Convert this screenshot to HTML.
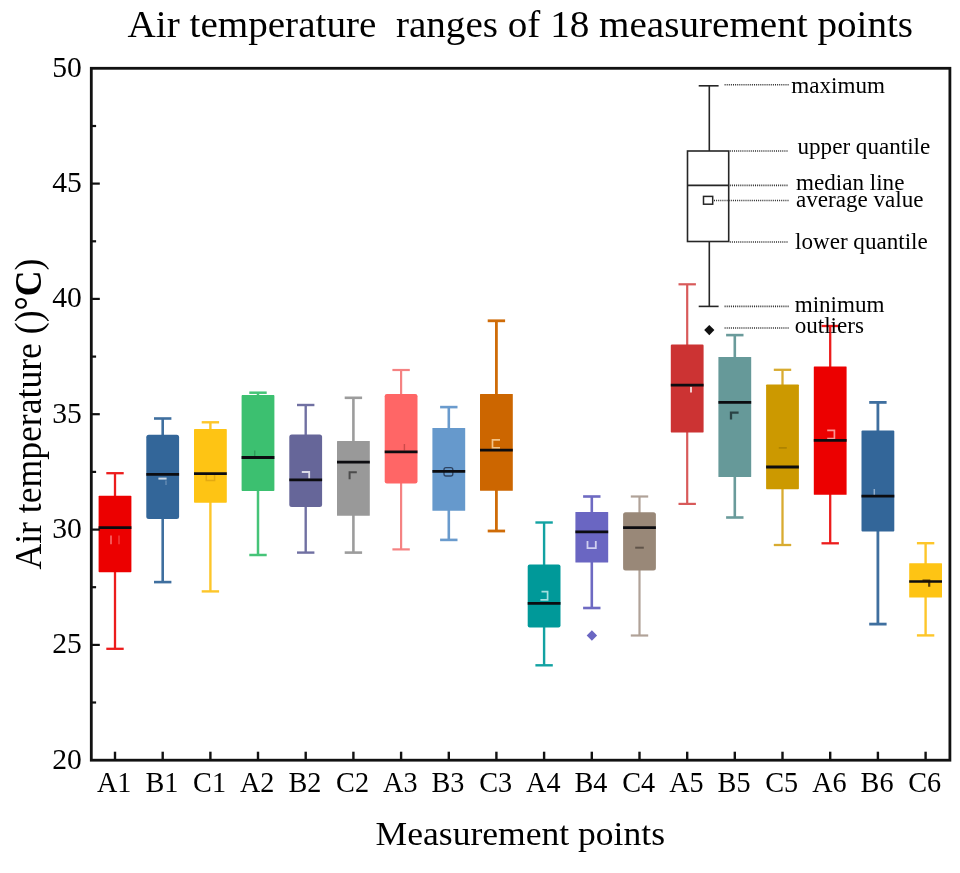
<!DOCTYPE html>
<html lang="en"><head><meta charset="utf-8"><title>Air temperature ranges of 18 measurement points</title>
<style>html,body{margin:0;padding:0;background:#fff}svg{display:block;filter:blur(0.55px)}text{font-family:"Liberation Serif",serif;fill:#000}</style></head><body>
<svg width="960" height="873" viewBox="0 0 960 873">
<rect width="960" height="873" fill="#fff"/>
<text x="127.6" y="36.6" font-size="37.6" textLength="785.5" lengthAdjust="spacingAndGlyphs" xml:space="preserve" style="white-space:pre">Air temperature  ranges of 18 measurement points</text>
<g stroke="#ec1c1c" stroke-width="2.3">
<line x1="115.0" y1="473.2" x2="115.0" y2="648.8"/>
<line x1="106.3" y1="473.2" x2="123.7" y2="473.2"/>
<line x1="106.3" y1="648.8" x2="123.7" y2="648.8"/>
</g>
<rect x="98.6" y="495.8" width="32.8" height="76.4" rx="0.8" fill="#ec0000"/>
<g stroke="#3f6f9f" stroke-width="2.6">
<line x1="162.7" y1="418.5" x2="162.7" y2="582.1"/>
<line x1="154.0" y1="418.5" x2="171.4" y2="418.5"/>
<line x1="154.0" y1="582.1" x2="171.4" y2="582.1"/>
</g>
<rect x="146.3" y="434.8" width="32.8" height="84.2" rx="2.5" fill="#336699"/>
<g stroke="#fdc62a" stroke-width="2.4">
<line x1="210.4" y1="422.3" x2="210.4" y2="591.4"/>
<line x1="201.7" y1="422.3" x2="219.1" y2="422.3"/>
<line x1="201.7" y1="591.4" x2="219.1" y2="591.4"/>
</g>
<rect x="194.0" y="428.9" width="32.8" height="73.8" rx="0.8" fill="#fec414"/>
<g stroke="#46c478" stroke-width="2.5">
<line x1="258.0" y1="392.7" x2="258.0" y2="555.0"/>
<line x1="249.3" y1="392.7" x2="266.7" y2="392.7"/>
<line x1="249.3" y1="555.0" x2="266.7" y2="555.0"/>
</g>
<rect x="241.6" y="395.1" width="32.8" height="95.9" rx="0.8" fill="#3cc070"/>
<g stroke="#7070a2" stroke-width="2.4">
<line x1="305.7" y1="405.0" x2="305.7" y2="552.6"/>
<line x1="297.0" y1="405.0" x2="314.4" y2="405.0"/>
<line x1="297.0" y1="552.6" x2="314.4" y2="552.6"/>
</g>
<rect x="289.3" y="434.5" width="32.8" height="72.5" rx="2.5" fill="#666699"/>
<g stroke="#9c9c9c" stroke-width="2.6">
<line x1="353.4" y1="397.8" x2="353.4" y2="552.6"/>
<line x1="344.7" y1="397.8" x2="362.1" y2="397.8"/>
<line x1="344.7" y1="552.6" x2="362.1" y2="552.6"/>
</g>
<rect x="337.0" y="441.1" width="32.8" height="74.7" rx="0.5" fill="#999999"/>
<g stroke="#f58282" stroke-width="2.2">
<line x1="401.1" y1="370.0" x2="401.1" y2="549.4"/>
<line x1="392.4" y1="370.0" x2="409.8" y2="370.0"/>
<line x1="392.4" y1="549.4" x2="409.8" y2="549.4"/>
</g>
<rect x="384.7" y="394.1" width="32.8" height="89.3" rx="2.2" fill="#ff6666"/>
<g stroke="#6a9bcd" stroke-width="2.6">
<line x1="448.8" y1="407.1" x2="448.8" y2="539.9"/>
<line x1="440.1" y1="407.1" x2="457.5" y2="407.1"/>
<line x1="440.1" y1="539.9" x2="457.5" y2="539.9"/>
</g>
<rect x="432.4" y="428.1" width="32.8" height="82.6" rx="0.5" fill="#6699cc"/>
<g stroke="#cf6c08" stroke-width="2.8">
<line x1="496.4" y1="320.8" x2="496.4" y2="531.0"/>
<line x1="487.7" y1="320.8" x2="505.1" y2="320.8"/>
<line x1="487.7" y1="531.0" x2="505.1" y2="531.0"/>
</g>
<rect x="480.0" y="394.1" width="32.8" height="96.6" rx="0.5" fill="#cc6600"/>
<g stroke="#12a2a2" stroke-width="2.4">
<line x1="544.1" y1="522.5" x2="544.1" y2="665.3"/>
<line x1="535.4" y1="522.5" x2="552.8" y2="522.5"/>
<line x1="535.4" y1="665.3" x2="552.8" y2="665.3"/>
</g>
<rect x="527.7" y="564.5" width="32.8" height="63.0" rx="2.0" fill="#009999"/>
<g stroke="#6e6ac2" stroke-width="2.6">
<line x1="591.8" y1="496.5" x2="591.8" y2="608.0"/>
<line x1="583.1" y1="496.5" x2="600.5" y2="496.5"/>
<line x1="583.1" y1="608.0" x2="600.5" y2="608.0"/>
</g>
<rect x="575.4" y="512.0" width="32.8" height="50.5" rx="0.5" fill="#6a66c2"/>
<g stroke="#b0a298" stroke-width="2.2">
<line x1="639.5" y1="496.5" x2="639.5" y2="635.5"/>
<line x1="630.8" y1="496.5" x2="648.2" y2="496.5"/>
<line x1="630.8" y1="635.5" x2="648.2" y2="635.5"/>
</g>
<rect x="623.1" y="512.3" width="32.8" height="58.3" rx="2.5" fill="#998878"/>
<g stroke="#d85a5a" stroke-width="2.2">
<line x1="687.2" y1="284.3" x2="687.2" y2="503.9"/>
<line x1="678.5" y1="284.3" x2="695.9" y2="284.3"/>
<line x1="678.5" y1="503.9" x2="695.9" y2="503.9"/>
</g>
<rect x="670.8" y="344.5" width="32.8" height="88.1" rx="1.2" fill="#cc3333"/>
<g stroke="#6a9b9b" stroke-width="2.6">
<line x1="734.8" y1="335.1" x2="734.8" y2="517.5"/>
<line x1="726.1" y1="335.1" x2="743.5" y2="335.1"/>
<line x1="726.1" y1="517.5" x2="743.5" y2="517.5"/>
</g>
<rect x="718.4" y="357.1" width="32.8" height="119.9" rx="0.5" fill="#669999"/>
<g stroke="#d8ab30" stroke-width="2.3">
<line x1="782.5" y1="369.8" x2="782.5" y2="545.0"/>
<line x1="773.8" y1="369.8" x2="791.2" y2="369.8"/>
<line x1="773.8" y1="545.0" x2="791.2" y2="545.0"/>
</g>
<rect x="766.1" y="384.5" width="32.8" height="104.8" rx="0.8" fill="#cc9900"/>
<g stroke="#ec1c1c" stroke-width="2.3">
<line x1="830.2" y1="326.0" x2="830.2" y2="543.3"/>
<line x1="821.5" y1="326.0" x2="838.9" y2="326.0"/>
<line x1="821.5" y1="543.3" x2="838.9" y2="543.3"/>
</g>
<rect x="813.8" y="366.6" width="32.8" height="128.2" rx="0.5" fill="#ec0000"/>
<g stroke="#3f6f9f" stroke-width="2.8">
<line x1="877.9" y1="402.4" x2="877.9" y2="624.1"/>
<line x1="869.2" y1="402.4" x2="886.6" y2="402.4"/>
<line x1="869.2" y1="624.1" x2="886.6" y2="624.1"/>
</g>
<rect x="861.5" y="430.6" width="32.8" height="101.0" rx="1.0" fill="#336699"/>
<g stroke="#fdc62a" stroke-width="2.4">
<line x1="925.6" y1="543.2" x2="925.6" y2="635.4"/>
<line x1="916.9" y1="543.2" x2="934.3" y2="543.2"/>
<line x1="916.9" y1="635.4" x2="934.3" y2="635.4"/>
</g>
<rect x="909.2" y="563.3" width="32.8" height="34.3" rx="0.5" fill="#fec414"/>
<path d="M111 535.5V544.3" fill="none" stroke="#ffb0b0" stroke-width="1.6" opacity="0.60"/>
<path d="M119 535.5V544.3" fill="none" stroke="#ffb0b0" stroke-width="1.4" opacity="0.36"/>
<path d="M158.4 478.6H166.6" fill="none" stroke="#ffffff" stroke-width="2.0" opacity="0.76"/>
<path d="M166 480.5V485" fill="none" stroke="#c8d8e8" stroke-width="1.2" opacity="0.40"/>
<path d="M206.3 475V480.6H214.6V475" fill="none" stroke="#d9a010" stroke-width="1.5" opacity="0.72"/>
<path d="M254.7 450.4V456.5" fill="none" stroke="#2a8a50" stroke-width="1.4" opacity="0.72"/>
<path d="M301.8 472H309.2V478.6" fill="none" stroke="#ffffff" stroke-width="1.8" opacity="0.76"/>
<path d="M349.6 479.2V472.2H356.8" fill="none" stroke="#333333" stroke-width="2.0" opacity="0.76"/>
<path d="M404.4 444V450.5" fill="none" stroke="#b84040" stroke-width="1.4" opacity="0.72"/>
<rect x="444" y="467.6" width="8.8" height="8.4" rx="2" fill="none" stroke="#23344f" stroke-width="1.3" opacity=".85"/>
<path d="M500 439.9H492.5V447.8H500" fill="none" stroke="#ffe0b0" stroke-width="1.7" opacity="0.76"/>
<path d="M541.5 591.6H547.6V599.9H540.4" fill="none" stroke="#d8f4f4" stroke-width="1.7" opacity="0.76"/>
<path d="M587.5 541V548.1H595.8V541" fill="none" stroke="#f0f0ff" stroke-width="1.8" opacity="0.76"/>
<path d="M635.2 547.7H643.8" fill="none" stroke="#4a4038" stroke-width="2.0" opacity="0.72"/>
<path d="M691 386.8V392.4" fill="none" stroke="#ffffff" stroke-width="2.0" opacity="0.76"/>
<path d="M731 419.6V412.6H738.6" fill="none" stroke="#18282a" stroke-width="2.3" opacity="0.76"/>
<path d="M778.8 447.9H786.8" fill="none" stroke="#9a7400" stroke-width="1.5" opacity="0.68"/>
<path d="M827.2 430.4H834.4V438.6H827.2" fill="none" stroke="#ffc0c0" stroke-width="1.7" opacity="0.76"/>
<path d="M874.3 489V495" fill="none" stroke="#b8cce2" stroke-width="1.5" opacity="0.72"/>
<line x1="98.6" y1="527.6" x2="131.4" y2="527.6" stroke="#0c0c10" stroke-width="2.8"/>
<line x1="146.3" y1="474.4" x2="179.1" y2="474.4" stroke="#0c0c10" stroke-width="2.8"/>
<line x1="194.0" y1="473.7" x2="226.8" y2="473.7" stroke="#0c0c10" stroke-width="2.8"/>
<line x1="241.6" y1="457.5" x2="274.4" y2="457.5" stroke="#0c0c10" stroke-width="2.8"/>
<line x1="289.3" y1="479.9" x2="322.1" y2="479.9" stroke="#0c0c10" stroke-width="2.8"/>
<line x1="337.0" y1="462.2" x2="369.8" y2="462.2" stroke="#0c0c10" stroke-width="2.8"/>
<line x1="384.7" y1="451.8" x2="417.5" y2="451.8" stroke="#0c0c10" stroke-width="2.8"/>
<line x1="432.4" y1="471.3" x2="465.2" y2="471.3" stroke="#0c0c10" stroke-width="2.8"/>
<line x1="480.0" y1="450.2" x2="512.8" y2="450.2" stroke="#0c0c10" stroke-width="2.8"/>
<line x1="527.7" y1="603.4" x2="560.5" y2="603.4" stroke="#0c0c10" stroke-width="2.8"/>
<line x1="575.4" y1="531.8" x2="608.2" y2="531.8" stroke="#0c0c10" stroke-width="2.8"/>
<line x1="623.1" y1="527.7" x2="655.9" y2="527.7" stroke="#0c0c10" stroke-width="2.8"/>
<line x1="670.8" y1="385.2" x2="703.6" y2="385.2" stroke="#0c0c10" stroke-width="2.8"/>
<line x1="718.4" y1="402.4" x2="751.2" y2="402.4" stroke="#0c0c10" stroke-width="2.8"/>
<line x1="766.1" y1="467.0" x2="798.9" y2="467.0" stroke="#0c0c10" stroke-width="2.8"/>
<line x1="813.8" y1="440.4" x2="846.6" y2="440.4" stroke="#0c0c10" stroke-width="2.8"/>
<line x1="861.5" y1="496.1" x2="894.3" y2="496.1" stroke="#0c0c10" stroke-width="2.8"/>
<line x1="909.2" y1="581.5" x2="942.0" y2="581.5" stroke="#0c0c10" stroke-width="2.5"/>
<path d="M922.5 580.6H929.2V586.8" fill="none" stroke="#201000" stroke-width="2.2" opacity="0.76"/>
<path d="M591.9 630.3l5.2 5.2l-5.2 5.2l-5.2 -5.2z" fill="#6a66c2"/>
<rect x="91.3" y="68.3" width="858.6" height="691.9" fill="none" stroke="#111" stroke-width="2.8"/>
<text x="52.2" y="768.6" font-size="30.2" textLength="29.6" lengthAdjust="spacingAndGlyphs">20</text>
<line x1="91.3" y1="702.5" x2="96.1" y2="702.5" stroke="#111" stroke-width="2.2"/>
<line x1="91.3" y1="644.9" x2="99.8" y2="644.9" stroke="#111" stroke-width="2.2"/>
<text x="52.2" y="653.3" font-size="30.2" textLength="29.6" lengthAdjust="spacingAndGlyphs">25</text>
<line x1="91.3" y1="587.2" x2="96.1" y2="587.2" stroke="#111" stroke-width="2.2"/>
<line x1="91.3" y1="529.6" x2="99.8" y2="529.6" stroke="#111" stroke-width="2.2"/>
<text x="52.2" y="538.0" font-size="30.2" textLength="29.6" lengthAdjust="spacingAndGlyphs">30</text>
<line x1="91.3" y1="471.9" x2="96.1" y2="471.9" stroke="#111" stroke-width="2.2"/>
<line x1="91.3" y1="414.2" x2="99.8" y2="414.2" stroke="#111" stroke-width="2.2"/>
<text x="52.2" y="422.6" font-size="30.2" textLength="29.6" lengthAdjust="spacingAndGlyphs">35</text>
<line x1="91.3" y1="356.6" x2="96.1" y2="356.6" stroke="#111" stroke-width="2.2"/>
<line x1="91.3" y1="298.9" x2="99.8" y2="298.9" stroke="#111" stroke-width="2.2"/>
<text x="52.2" y="307.3" font-size="30.2" textLength="29.6" lengthAdjust="spacingAndGlyphs">40</text>
<line x1="91.3" y1="241.3" x2="96.1" y2="241.3" stroke="#111" stroke-width="2.2"/>
<line x1="91.3" y1="183.6" x2="99.8" y2="183.6" stroke="#111" stroke-width="2.2"/>
<text x="52.2" y="192.0" font-size="30.2" textLength="29.6" lengthAdjust="spacingAndGlyphs">45</text>
<line x1="91.3" y1="126.0" x2="96.1" y2="126.0" stroke="#111" stroke-width="2.2"/>
<text x="52.2" y="76.7" font-size="30.2" textLength="29.6" lengthAdjust="spacingAndGlyphs">50</text>
<line x1="115.0" y1="760.2" x2="115.0" y2="751.7" stroke="#111" stroke-width="2.4"/>
<text x="97.0" y="792.4" font-size="30.3" textLength="34.4" lengthAdjust="spacingAndGlyphs">A1</text>
<line x1="162.7" y1="760.2" x2="162.7" y2="751.7" stroke="#111" stroke-width="2.4"/>
<text x="145.4" y="792.4" font-size="30.3" textLength="32.9" lengthAdjust="spacingAndGlyphs">B1</text>
<line x1="210.4" y1="760.2" x2="210.4" y2="751.7" stroke="#111" stroke-width="2.4"/>
<text x="193.1" y="792.4" font-size="30.3" textLength="32.9" lengthAdjust="spacingAndGlyphs">C1</text>
<line x1="258.0" y1="760.2" x2="258.0" y2="751.7" stroke="#111" stroke-width="2.4"/>
<text x="240.0" y="792.4" font-size="30.3" textLength="34.4" lengthAdjust="spacingAndGlyphs">A2</text>
<line x1="305.7" y1="760.2" x2="305.7" y2="751.7" stroke="#111" stroke-width="2.4"/>
<text x="288.5" y="792.4" font-size="30.3" textLength="32.9" lengthAdjust="spacingAndGlyphs">B2</text>
<line x1="353.4" y1="760.2" x2="353.4" y2="751.7" stroke="#111" stroke-width="2.4"/>
<text x="336.1" y="792.4" font-size="30.3" textLength="32.9" lengthAdjust="spacingAndGlyphs">C2</text>
<line x1="401.1" y1="760.2" x2="401.1" y2="751.7" stroke="#111" stroke-width="2.4"/>
<text x="383.1" y="792.4" font-size="30.3" textLength="34.4" lengthAdjust="spacingAndGlyphs">A3</text>
<line x1="448.8" y1="760.2" x2="448.8" y2="751.7" stroke="#111" stroke-width="2.4"/>
<text x="431.5" y="792.4" font-size="30.3" textLength="32.9" lengthAdjust="spacingAndGlyphs">B3</text>
<line x1="496.4" y1="760.2" x2="496.4" y2="751.7" stroke="#111" stroke-width="2.4"/>
<text x="479.2" y="792.4" font-size="30.3" textLength="32.9" lengthAdjust="spacingAndGlyphs">C3</text>
<line x1="544.1" y1="760.2" x2="544.1" y2="751.7" stroke="#111" stroke-width="2.4"/>
<text x="526.1" y="792.4" font-size="30.3" textLength="34.4" lengthAdjust="spacingAndGlyphs">A4</text>
<line x1="591.8" y1="760.2" x2="591.8" y2="751.7" stroke="#111" stroke-width="2.4"/>
<text x="574.5" y="792.4" font-size="30.3" textLength="32.9" lengthAdjust="spacingAndGlyphs">B4</text>
<line x1="639.5" y1="760.2" x2="639.5" y2="751.7" stroke="#111" stroke-width="2.4"/>
<text x="622.2" y="792.4" font-size="30.3" textLength="32.9" lengthAdjust="spacingAndGlyphs">C4</text>
<line x1="687.2" y1="760.2" x2="687.2" y2="751.7" stroke="#111" stroke-width="2.4"/>
<text x="669.2" y="792.4" font-size="30.3" textLength="34.4" lengthAdjust="spacingAndGlyphs">A5</text>
<line x1="734.8" y1="760.2" x2="734.8" y2="751.7" stroke="#111" stroke-width="2.4"/>
<text x="717.6" y="792.4" font-size="30.3" textLength="32.9" lengthAdjust="spacingAndGlyphs">B5</text>
<line x1="782.5" y1="760.2" x2="782.5" y2="751.7" stroke="#111" stroke-width="2.4"/>
<text x="765.3" y="792.4" font-size="30.3" textLength="32.9" lengthAdjust="spacingAndGlyphs">C5</text>
<line x1="830.2" y1="760.2" x2="830.2" y2="751.7" stroke="#111" stroke-width="2.4"/>
<text x="812.2" y="792.4" font-size="30.3" textLength="34.4" lengthAdjust="spacingAndGlyphs">A6</text>
<line x1="877.9" y1="760.2" x2="877.9" y2="751.7" stroke="#111" stroke-width="2.4"/>
<text x="860.6" y="792.4" font-size="30.3" textLength="32.9" lengthAdjust="spacingAndGlyphs">B6</text>
<line x1="925.6" y1="760.2" x2="925.6" y2="751.7" stroke="#111" stroke-width="2.4"/>
<text x="908.3" y="792.4" font-size="30.3" textLength="32.9" lengthAdjust="spacingAndGlyphs">C6</text>
<text x="375.6" y="845" font-size="34.6" textLength="289.4" lengthAdjust="spacingAndGlyphs">Measurement points</text>
<text transform="translate(40.8,569.6) rotate(-90)" font-size="37.6" textLength="311" lengthAdjust="spacingAndGlyphs">Air temperature ()<tspan font-weight="bold">°C</tspan>)</text>
<g stroke="#262626" stroke-width="1.6" fill="none">
<line x1="709.3" y1="85.8" x2="709.3" y2="151"/><line x1="709.3" y1="241.5" x2="709.3" y2="306.4"/>
<line x1="698.7" y1="85.8" x2="718.6" y2="85.8"/><line x1="698.7" y1="306.4" x2="718.6" y2="306.4"/>
<rect x="687.5" y="151" width="41.2" height="90.5" fill="#fff"/>
<line x1="687.5" y1="185.4" x2="728.7" y2="185.4"/>
<rect x="703.5" y="196.4" width="9.2" height="7.8" stroke-width="1.5"/>
</g>
<path d="M709.3 325l5.1 5.1l-5.1 5.1l-5.1 -5.1z" fill="#111"/>
<g stroke="#2c2c2c" stroke-width="1.6" stroke-dasharray="1 1.1">
<line x1="724.6" y1="84.7" x2="788.6" y2="84.7"/>
<line x1="729.8" y1="151" x2="788.6" y2="151"/>
<line x1="729.8" y1="185.4" x2="788.6" y2="185.4"/>
<line x1="714" y1="200.5" x2="788.6" y2="200.5"/>
<line x1="729.8" y1="242" x2="788.6" y2="242"/>
<line x1="724.6" y1="306.4" x2="788.6" y2="306.4"/>
<line x1="724.6" y1="328" x2="788.6" y2="328"/>
</g>
<text x="791.3" y="92.6" font-size="23.1">maximum</text>
<text x="797.5" y="153.8" font-size="23.1">upper quantile</text>
<text x="796" y="190" font-size="23.1">median line</text>
<text x="796" y="207" font-size="23.1">average value</text>
<text x="795" y="249.3" font-size="23.1">lower quantile</text>
<text x="794.7" y="311.9" font-size="23.1">minimum</text>
<text x="794.7" y="333.2" font-size="23.1">outliers</text>
</svg></body></html>
